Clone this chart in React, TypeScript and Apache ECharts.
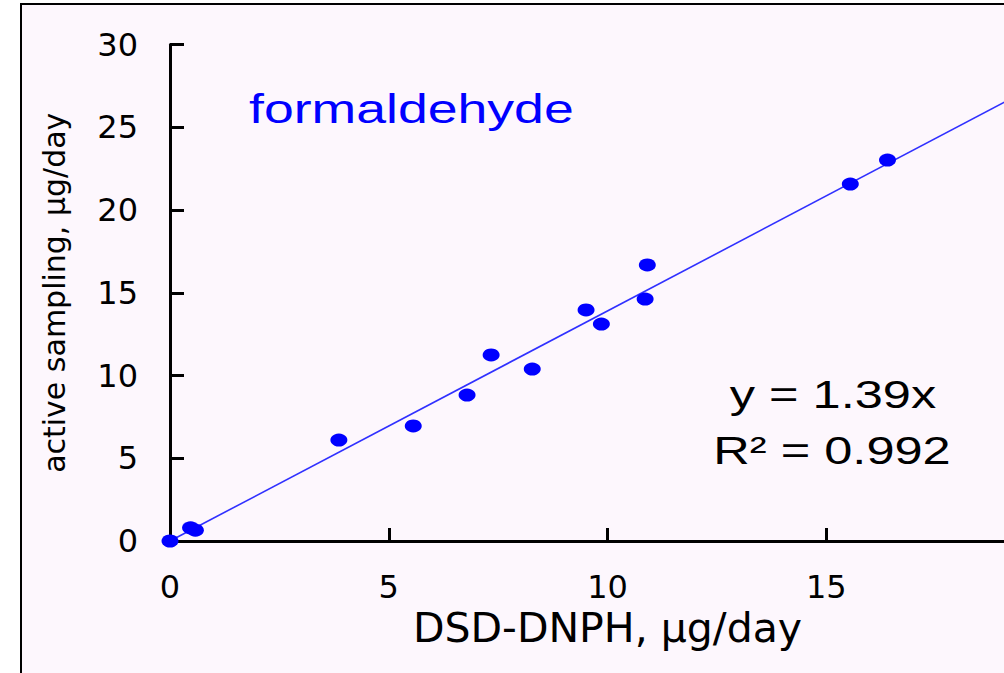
import React, { useEffect, useRef } from "react";
import * as echarts from "echarts";

const xMax = 20;
const yMax = 30;
const tickStep = 5;
const dsdDnph = [0, 0.47, 0.58, 3.86, 5.56, 6.79, 7.34, 8.28, 9.51, 9.86, 10.86, 10.91, 15.55, 16.4];
const activeSampling = [0, 0.8, 0.65, 6.1, 6.95, 8.82, 11.24, 10.39, 13.96, 13.11, 14.62, 16.68, 21.57, 23.02];
const fitSlope = 1.39;
const fitX = [0, 20];
const compoundLabel = "formaldehyde";
const equationLabel = "y = 1.39x";
const r2Label = "R² = 0.992";
const xAxisTitle = "DSD-DNPH, µg/day";
const yAxisTitle = "active sampling, µg/day";

const BG = "#fdf7fd";

export default function App() {
  const ref = useRef<HTMLDivElement>(null);
  useEffect(() => {
    if (!ref.current) return;
    const chart = echarts.init(ref.current, undefined, { renderer: "svg" });
    const points = dsdDnph.map((x, i) => [x, activeSampling[i]]);
    const fit = fitX.map((x) => [x, fitSlope * x]);
    chart.setOption({
      animation: false,
      backgroundColor: "#ffffff",
      grid: {
        left: 170,
        width: 875,
        top: 44.5,
        height: 496.5,
        containLabel: false,
        outerBoundsMode: "none",
      },
      graphic: [
        {
          type: "rect",
          z: -10,
          shape: { x: 21, y: 4, width: 1200, height: 1000 },
          style: { fill: BG, stroke: "#000", lineWidth: 2 },
        },
        {
          type: "text",
          x: 249,
          y: 109,
          scaleX: 1.34,
          style: {
            text: compoundLabel,
            fill: "#0000ff",
            font: "40px 'Liberation Sans', Arial, sans-serif",
            align: "left",
            verticalAlign: "middle",
          },
        },
        {
          type: "text",
          x: 833,
          y: 395,
          scaleX: 1.33,
          style: {
            text: equationLabel,
            fill: "#000",
            font: "38px 'Liberation Sans', Arial, sans-serif",
            align: "center",
            verticalAlign: "middle",
          },
        },
        {
          type: "text",
          x: 832,
          y: 451,
          scaleX: 1.33,
          style: {
            text: r2Label,
            fill: "#000",
            font: "38px 'Liberation Sans', Arial, sans-serif",
            align: "center",
            verticalAlign: "middle",
          },
        },
      ],
      xAxis: [
        {
          type: "value",
          min: 0,
          max: xMax,
          interval: tickStep,
          name: xAxisTitle,
          nameLocation: "middle",
          nameGap: 65,
          nameTextStyle: { fontFamily: "DejaVu Sans", fontSize: 41, color: "#000" },
          axisLine: { show: true, onZero: false, lineStyle: { color: "#000", width: 3 } },
          axisTick: { show: true, inside: true, length: 13, lineStyle: { color: "#000", width: 3 } },
          axisLabel: { showMaxLabel: false, margin: 30, fontFamily: "DejaVu Sans", fontSize: 32, color: "#000" },
          splitLine: { show: false },
        },
        {
          type: "value",
          position: "top",
          min: 0,
          max: xMax,
          axisLine: { show: true, lineStyle: { color: "#000", width: 3 } },
          axisTick: { show: false },
          axisLabel: { show: false },
          splitLine: { show: false },
        },
      ],
      yAxis: {
        type: "value",
        min: 0,
        max: yMax,
        interval: tickStep,
        name: yAxisTitle,
        nameLocation: "middle",
        nameGap: 101,
        nameTextStyle: { fontFamily: "DejaVu Sans", fontSize: 30, color: "#000" },
        axisLine: { show: true, onZero: false, lineStyle: { color: "#000", width: 3 } },
        axisTick: { show: true, inside: true, length: 14, lineStyle: { color: "#000", width: 3 } },
        axisLabel: { margin: 32, fontFamily: "DejaVu Sans", fontSize: 32, color: "#000" },
        splitLine: { show: false },
      },
      series: [
        {
          type: "line",
          data: fit,
          showSymbol: false,
          symbol: "none",
          lineStyle: { color: "#3030ff", width: 1.6 },
          z: 2,
        },
        {
          type: "scatter",
          data: points,
          symbol: "circle",
          symbolSize: [17, 13],
          itemStyle: { color: "#0000ff", opacity: 1 },
          z: 3,
        },
      ],
    });
    return () => chart.dispose();
  }, []);
  return <div ref={ref} style={{ position: "absolute", left: 0, top: 0, width: 1004, height: 673 }} />;
}
